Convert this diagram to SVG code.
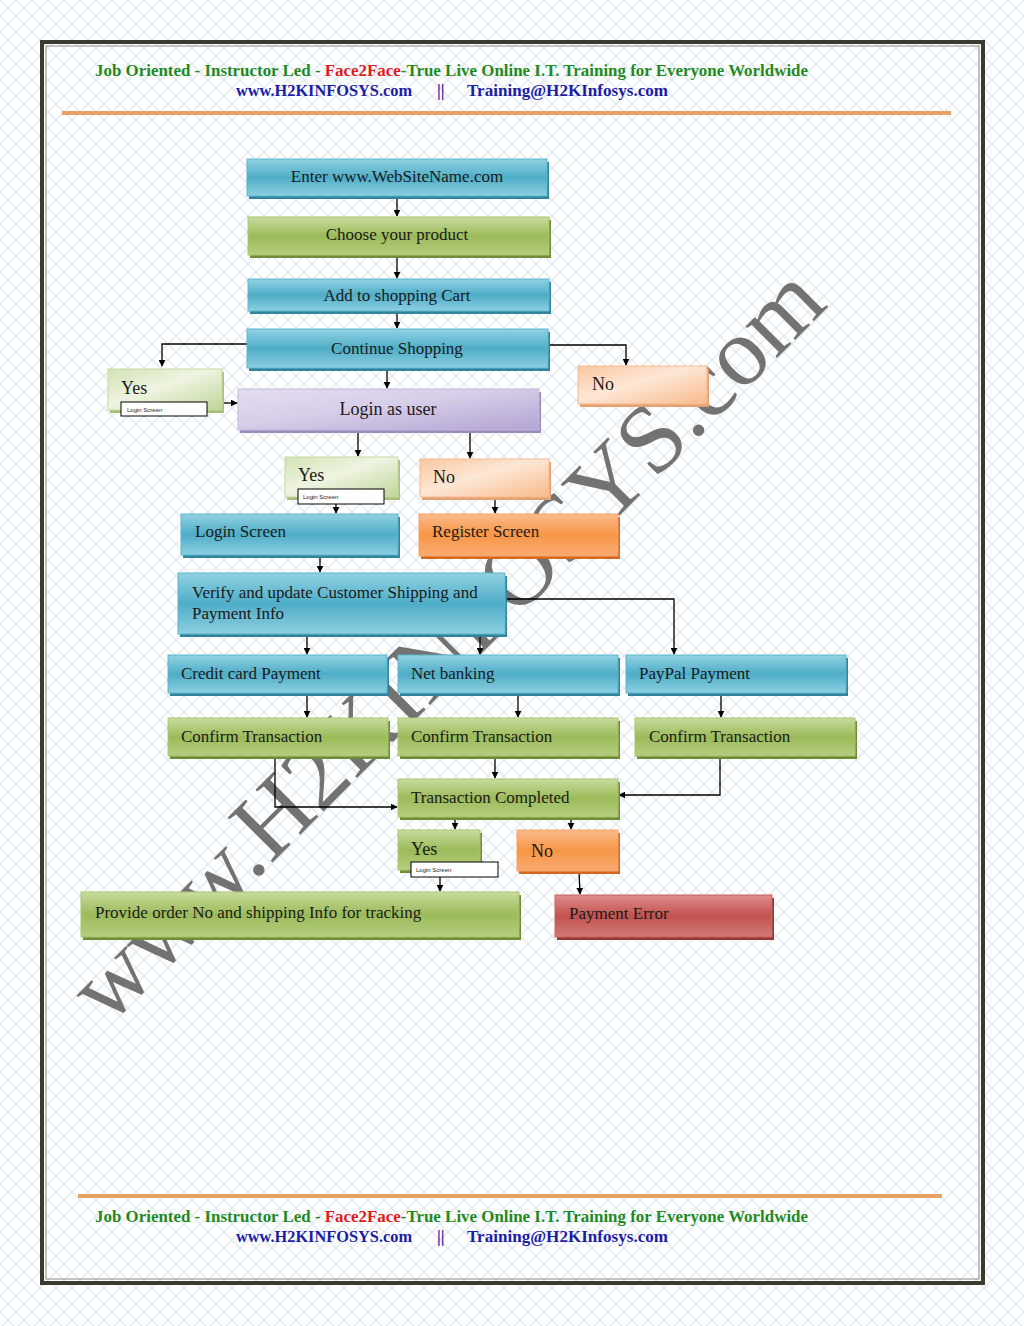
<svg xmlns="http://www.w3.org/2000/svg" width="1024" height="1326" viewBox="0 0 1024 1326">
<defs>
<pattern id="lattice" width="16" height="16" patternUnits="userSpaceOnUse">
<rect width="16" height="16" fill="#ffffff"/>
<path d="M0 0 L16 16 M16 0 L0 16" stroke="#dbe7ef" stroke-width="1.2" fill="none"/>
</pattern>
<linearGradient id="gBlue" x1="0" y1="0" x2="0" y2="1"><stop offset="0" stop-color="#92d2e3"/><stop offset="0.5" stop-color="#4eadc7"/><stop offset="1" stop-color="#8dcfe1"/></linearGradient>
<linearGradient id="gGreen" x1="0" y1="0" x2="0" y2="1"><stop offset="0" stop-color="#c8dc9f"/><stop offset="0.5" stop-color="#9bbb59"/><stop offset="1" stop-color="#b4ce7f"/></linearGradient>
<linearGradient id="gOrange" x1="0" y1="0" x2="0" y2="1"><stop offset="0" stop-color="#fbbb8c"/><stop offset="0.5" stop-color="#f79646"/><stop offset="1" stop-color="#f9ab72"/></linearGradient>
<linearGradient id="gRed" x1="0" y1="0" x2="0" y2="1"><stop offset="0" stop-color="#df8e8c"/><stop offset="0.5" stop-color="#c0504d"/><stop offset="1" stop-color="#d1797700"/></linearGradient>
<linearGradient id="gRed2" x1="0" y1="0" x2="0" y2="1"><stop offset="0" stop-color="#df8e8c"/><stop offset="0.5" stop-color="#c2524f"/><stop offset="1" stop-color="#d27a78"/></linearGradient>
<linearGradient id="gPurple" x1="0" y1="0" x2="1" y2="1"><stop offset="0" stop-color="#e4def0"/><stop offset="0.45" stop-color="#d6cde8"/><stop offset="1" stop-color="#b3a3d2"/></linearGradient>
<linearGradient id="gLGreen" x1="0" y1="0" x2="1" y2="1"><stop offset="0" stop-color="#d3e3b3"/><stop offset="0.45" stop-color="#eef4e2"/><stop offset="1" stop-color="#c0d598"/></linearGradient>
<linearGradient id="gPeach" x1="0" y1="0" x2="1" y2="1"><stop offset="0" stop-color="#fbc7a0"/><stop offset="0.45" stop-color="#fde7d6"/><stop offset="1" stop-color="#f9ba8a"/></linearGradient>
<marker id="arr" viewBox="0 0 10 10" refX="9" refY="5" markerWidth="7" markerHeight="7" markerUnits="userSpaceOnUse" orient="auto">
<path d="M0 0 L10 5 L0 10 z" fill="#000"/>
</marker>
<style>
.lbl{font-family:"Liberation Serif","Times New Roman",serif;font-size:17px;fill:#1a1a1a}
.big{font-size:18px}
.c{text-anchor:middle}
.hdr{font-family:"Liberation Serif","Times New Roman",serif;font-weight:bold;font-size:17px}
.grn{fill:#1f8a1f}
.red{fill:#e01a1a}
.blu{fill:#1c1ca6}
.sb{fill:#31849b}
.sg{fill:#6f8c36}
.so{fill:#d6691c}
.sr{fill:#943634}
.sp{fill:#9a8bbd}
.sl{fill:#a8c077}
.sk{fill:#e3a273}
.fb{fill:url(#gBlue);stroke:#5cb6ce;stroke-width:1}
.fg{fill:url(#gGreen);stroke:#a9c56e;stroke-width:1}
.fo{fill:url(#gOrange);stroke:#f4a46a;stroke-width:1}
.fr{fill:url(#gRed2);stroke:#c96462;stroke-width:1}
.fp{fill:url(#gPurple);stroke:#c4b8dc;stroke-width:1}
.fl{fill:url(#gLGreen);stroke:#c7d9a3;stroke-width:1}
.fk{fill:url(#gPeach);stroke:#f5b98f;stroke-width:1}
.wb{fill:#fff;stroke:#000;stroke-width:1}
.tiny{font-family:"Liberation Sans",Arial,sans-serif;font-size:6px;fill:#222}
.con path{fill:none;stroke:#000;stroke-width:1.3;marker-end:url(#arr)}
</style>
</defs>

<rect x="0" y="0" width="1024" height="1326" fill="url(#lattice)"/>
<rect x="42" y="42" width="941" height="1241" fill="none" stroke="#3b3a2e" stroke-width="4"/>
<rect x="46" y="46" width="933" height="1233" fill="none" stroke="#8a8a80" stroke-width="1"/>

<g id="header">
<text class="hdr" x="95" y="76" textLength="713" lengthAdjust="spacingAndGlyphs"><tspan class="grn">Job Oriented - Instructor Led - </tspan><tspan class="red">Face2Face</tspan><tspan class="grn">-True Live Online I.T. Training for Everyone Worldwide</tspan></text>
<text class="hdr blu" x="236" y="96" textLength="176" lengthAdjust="spacingAndGlyphs">www.H2KINFOSYS.com</text>
<text class="hdr blu" x="437" y="96">||</text>
<text class="hdr blu" x="467" y="96" textLength="201" lengthAdjust="spacingAndGlyphs">Training@H2KInfosys.com</text>
<rect x="62" y="111" width="889" height="4" fill="#e9a063"/>
</g>

<g id="footer">
<rect x="78" y="1194" width="864" height="4" fill="#e9a063"/>
<text class="hdr" x="95" y="1222" textLength="713" lengthAdjust="spacingAndGlyphs"><tspan class="grn">Job Oriented - Instructor Led - </tspan><tspan class="red">Face2Face</tspan><tspan class="grn">-True Live Online I.T. Training for Everyone Worldwide</tspan></text>
<text class="hdr blu" x="236" y="1242" textLength="176" lengthAdjust="spacingAndGlyphs">www.H2KINFOSYS.com</text>
<text class="hdr blu" x="437" y="1242">||</text>
<text class="hdr blu" x="467" y="1242" textLength="201" lengthAdjust="spacingAndGlyphs">Training@H2KInfosys.com</text>
</g>

<g id="watermark">
<text x="108" y="1027" transform="rotate(-45 108 1027)" font-family="Liberation Serif, Times New Roman, serif" font-size="97" fill="#5a5a5a" fill-opacity="0.85" textLength="1020" lengthAdjust="spacingAndGlyphs">www.H2KINFOSYS.com</text>
</g>

<g class="con" id="connectors">
<path d="M397 196 V216"/>
<path d="M397 255 V278"/>
<path d="M397 311 V328"/>
<path d="M247 344 H162 V366"/>
<path d="M548 345 H626 V365"/>
<path d="M387 368 V388"/>
<path d="M222 403 H237"/>
<path d="M358 430 V456"/>
<path d="M470 430 V458"/>
<path d="M336 496 V513"/>
<path d="M495 497 V513"/>
<path d="M320 555 V572"/>
<path d="M505 599 H674 V654"/>
<path d="M307 634 V654"/>
<path d="M480 634 V654"/>
<path d="M307 693 V717"/>
<path d="M518 693 V717"/>
<path d="M721 693 V717"/>
<path d="M275 756 V807 H397"/>
<path d="M495 756 V778"/>
<path d="M720 756 V795 H619"/>
<path d="M455 817 V829"/>
<path d="M571 817 V829"/>
<path d="M440 866 V891"/>
<path d="M579 871 L580 894"/>
</g>

<g id="n1"><rect class="sb" x="249" y="162" width="300" height="37"/><rect class="fb" x="247" y="159" width="300" height="37"/><text class="lbl c" x="397" y="182">Enter www.WebSiteName.com</text></g>
<g id="n2"><rect class="sg" x="250" y="220" width="301" height="38"/><rect class="fg" x="248" y="217" width="301" height="38"/><text class="lbl c" x="397" y="240">Choose your product</text></g>
<g id="n3"><rect class="sb" x="250" y="282" width="301" height="32"/><rect class="fb" x="248" y="279" width="301" height="32"/><text class="lbl c" x="397" y="301">Add to shopping Cart</text></g>
<g id="n4"><rect class="sb" x="249" y="332" width="301" height="39"/><rect class="fb" x="247" y="329" width="301" height="39"/><text class="lbl c" x="397" y="354">Continue Shopping</text></g>
<g id="n5"><rect class="sl" x="110" y="372" width="114" height="41"/><rect class="fl" x="108" y="369" width="114" height="41"/><text class="lbl big" x="121" y="394">Yes</text><rect class="wb" x="121" y="402" width="86" height="14"/><text class="tiny" x="127" y="411.5">Login Screen</text></g>
<g id="n6"><rect class="sk" x="580" y="369" width="129" height="38"/><rect class="fk" x="578" y="366" width="129" height="38"/><text class="lbl big" x="592" y="390">No</text></g>
<g id="n7"><rect class="sp" x="240" y="392" width="301" height="41"/><rect class="fp" x="238" y="389" width="301" height="41"/><text class="lbl big c" x="388" y="415">Login as user</text></g>
<g id="n8"><rect class="sl" x="287" y="460" width="113" height="40"/><rect class="fl" x="285" y="457" width="113" height="40"/><text class="lbl big" x="298" y="481">Yes</text><rect class="wb" x="298" y="489" width="86" height="15"/><text class="tiny" x="303" y="498.5">Login Screen</text></g>
<g id="n9"><rect class="sk" x="422" y="462" width="129" height="38"/><rect class="fk" x="420" y="459" width="129" height="38"/><text class="lbl big" x="433" y="483">No</text></g>
<g id="n10"><rect class="sb" x="183" y="517" width="217" height="41"/><rect class="fb" x="181" y="514" width="217" height="41"/><text class="lbl" x="195" y="537">Login Screen</text></g>
<g id="n11"><rect class="so" x="421" y="517" width="199" height="42"/><rect class="fo" x="419" y="514" width="199" height="42"/><text class="lbl" x="432" y="537">Register Screen</text></g>
<g id="n12"><rect class="sb" x="180" y="576" width="327" height="61"/><rect class="fb" x="178" y="573" width="327" height="61"/><text class="lbl" x="192" y="598">Verify  and update Customer Shipping and</text><text class="lbl" x="192" y="619">Payment Info</text></g>
<g id="n13"><rect class="sb" x="170" y="658" width="219" height="38"/><rect class="fb" x="168" y="655" width="219" height="38"/><text class="lbl" x="181" y="679">Credit card Payment</text></g>
<g id="n14"><rect class="sb" x="400" y="658" width="220" height="38"/><rect class="fb" x="398" y="655" width="220" height="38"/><text class="lbl" x="411" y="679">Net banking</text></g>
<g id="n15"><rect class="sb" x="628" y="658" width="220" height="38"/><rect class="fb" x="626" y="655" width="220" height="38"/><text class="lbl" x="639" y="679">PayPal Payment</text></g>
<g id="n16"><rect class="sg" x="170" y="721" width="220" height="38"/><rect class="fg" x="168" y="718" width="220" height="38"/><text class="lbl" x="181" y="742">Confirm Transaction</text></g>
<g id="n17"><rect class="sg" x="400" y="721" width="220" height="38"/><rect class="fg" x="398" y="718" width="220" height="38"/><text class="lbl" x="411" y="742">Confirm Transaction</text></g>
<g id="n18"><rect class="sg" x="637" y="721" width="220" height="38"/><rect class="fg" x="635" y="718" width="220" height="38"/><text class="lbl" x="649" y="742">Confirm Transaction</text></g>
<g id="n19"><rect class="sg" x="400" y="782" width="220" height="38"/><rect class="fg" x="398" y="779" width="220" height="38"/><text class="lbl" x="411" y="803">Transaction Completed</text></g>
<g id="n20"><rect class="sg" x="400" y="833" width="82" height="40"/><rect class="fg" x="398" y="830" width="82" height="40"/><text class="lbl big" x="411" y="855">Yes</text><rect class="wb" x="411" y="862" width="87" height="15"/><text class="tiny" x="416" y="871.5">Login Screen</text></g>
<g id="n21"><rect class="so" x="519" y="833" width="101" height="41"/><rect class="fo" x="517" y="830" width="101" height="41"/><text class="lbl big" x="531" y="857">No</text></g>
<g id="n22"><rect class="sg" x="83" y="895" width="438" height="45"/><rect class="fg" x="81" y="892" width="438" height="45"/><text class="lbl" x="95" y="918">Provide order No and shipping Info for tracking</text></g>
<g id="n23"><rect class="sr" x="557" y="898" width="217" height="42"/><rect class="fr" x="555" y="895" width="217" height="42"/><text class="lbl" x="569" y="919">Payment Error</text></g>
</svg>
